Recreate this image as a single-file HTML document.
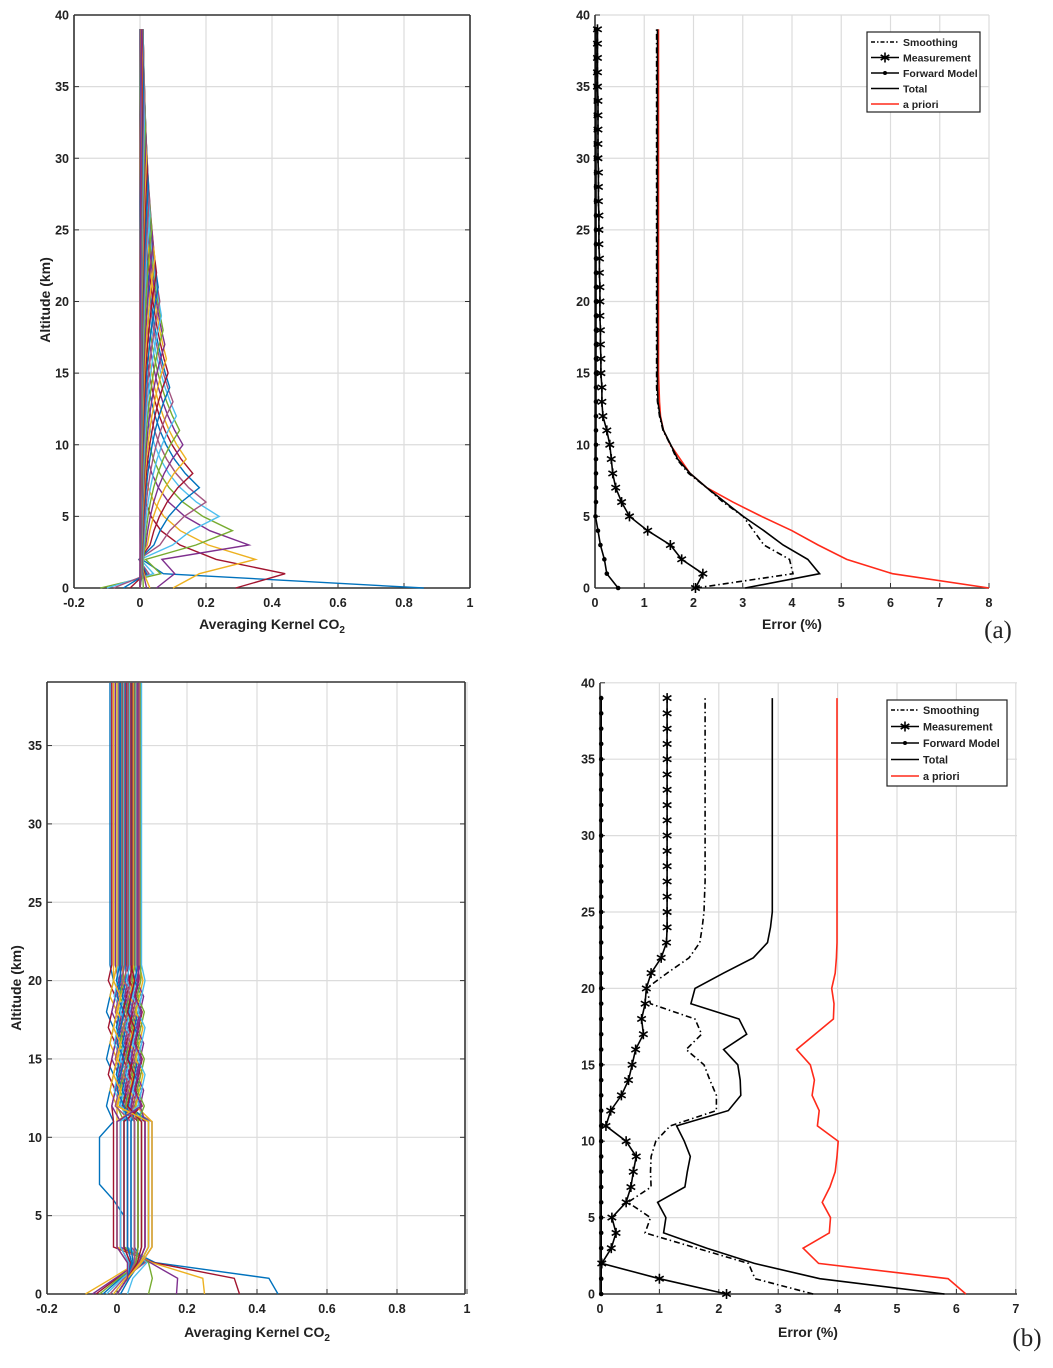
<!DOCTYPE html>
<html><head><meta charset="utf-8">
<style>
html,body{margin:0;padding:0;background:#fff;}
svg text{font-family:"Liberation Sans",Arial,sans-serif;font-weight:bold;fill:#222;}
</style></head>
<body>
<svg id="fig" width="1053" height="1363" viewBox="0 0 1053 1363" xmlns="http://www.w3.org/2000/svg">
<text x="998" y="638" font-size="25" style="font-family:'Liberation Serif',serif;font-weight:normal" text-anchor="middle">(a)</text>
<text x="1027" y="1346" font-size="25" style="font-family:'Liberation Serif',serif;font-weight:normal" text-anchor="middle">(b)</text>
</svg>
<script>
// ---------- data ----------
const altLevels = [0,1,2,3,4,5,6,7,8,9,10,11,12,13,14,15,16,17,18,19,20,21,22,23,24,25,26,27,28,29,30,31,32,33,34,35,36,37,38,39];
// panel (a) errors
const aSmooth = [2.05,4.02,3.95,3.43,3.22,3.01,2.6,2.27,1.9,1.66,1.53,1.38,1.31,1.27,1.25,1.25,1.25,1.25,1.25,1.25,1.25,1.25,1.25,1.25,1.25,1.25,1.25,1.25,1.25,1.25,1.25,1.25,1.25,1.25,1.25,1.25,1.25,1.25,1.25,1.25];
const aMeas = [2.04,2.19,1.76,1.53,1.07,0.7,0.54,0.42,0.36,0.33,0.3,0.24,0.16,0.14,0.14,0.12,0.12,0.11,0.11,0.1,0.1,0.1,0.09,0.09,0.08,0.08,0.08,0.07,0.07,0.07,0.06,0.06,0.06,0.06,0.06,0.05,0.05,0.05,0.05,0.05];
const aFwd = [0.47,0.24,0.19,0.11,0.06,0.01,0.02,0.02,0.02,0.02,0.02,0.02,0.02,0.02,0.02,0.02,0.02,0.02,0.02,0.02,0.02,0.02,0.02,0.02,0.02,0.02,0.02,0.02,0.02,0.02,0.02,0.02,0.02,0.02,0.02,0.02,0.02,0.02,0.02,0.02];
const aTotal = [3.05,4.56,4.32,3.82,3.43,3.01,2.64,2.27,1.93,1.68,1.54,1.39,1.32,1.28,1.27,1.27,1.27,1.27,1.27,1.27,1.27,1.27,1.27,1.27,1.27,1.27,1.27,1.27,1.27,1.27,1.27,1.27,1.27,1.27,1.27,1.27,1.27,1.27,1.27,1.27];
const aPrior = [8.0,6.04,5.11,4.53,4.0,3.38,2.8,2.27,1.93,1.73,1.53,1.39,1.33,1.31,1.3,1.29,1.29,1.29,1.29,1.29,1.29,1.29,1.29,1.29,1.29,1.29,1.29,1.29,1.29,1.29,1.29,1.29,1.29,1.29,1.29,1.29,1.29,1.29,1.29,1.29];
// panel (b) errors
const bSmooth = [3.59,2.61,2.5,1.63,0.76,0.85,0.47,0.86,0.85,0.86,0.94,1.18,1.96,1.96,1.85,1.75,1.45,1.71,1.6,0.85,0.78,1.13,1.5,1.68,1.72,1.75,1.76,1.77,1.77,1.77,1.77,1.77,1.77,1.77,1.77,1.77,1.77,1.77,1.77,1.77];
const bMeas = [2.13,1.0,0.03,0.19,0.27,0.2,0.44,0.52,0.56,0.61,0.44,0.1,0.18,0.36,0.48,0.54,0.6,0.73,0.7,0.76,0.78,0.86,1.03,1.12,1.13,1.13,1.13,1.13,1.13,1.13,1.13,1.13,1.13,1.13,1.13,1.13,1.13,1.13,1.13,1.13];
const bFwd = [0.02,0.02,0.02,0.02,0.02,0.02,0.02,0.02,0.02,0.02,0.02,0.02,0.02,0.02,0.02,0.02,0.02,0.02,0.02,0.02,0.02,0.02,0.02,0.02,0.02,0.02,0.02,0.02,0.02,0.02,0.02,0.02,0.02,0.02,0.02,0.02,0.02,0.02,0.02,0.02];
const bTotal = [5.8,3.7,2.6,1.8,1.07,1.11,0.97,1.43,1.47,1.52,1.42,1.29,2.16,2.37,2.36,2.32,2.08,2.47,2.34,1.53,1.6,2.08,2.58,2.82,2.87,2.9,2.9,2.9,2.9,2.9,2.9,2.9,2.9,2.9,2.9,2.9,2.9,2.9,2.9,2.9];
const bPrior = [6.16,5.86,3.68,3.42,3.86,3.88,3.74,3.87,3.96,3.99,4.01,3.66,3.69,3.57,3.61,3.54,3.31,3.62,3.93,3.94,3.9,3.96,3.98,3.99,3.99,3.99,3.99,3.99,3.99,3.99,3.99,3.99,3.99,3.99,3.99,3.99,3.99,3.99,3.99,3.99];
// averaging kernel peak values (a) and base values (b)
const akPeakA = [0.86,0.44,0.35,0.33,0.28,0.24,0.2,0.18,0.16,0.14,0.13,0.12,0.11,0.1,0.09,0.085,0.08,0.075,0.07,0.065,0.06,0.055,0.05,0.045,0.04,0.035,0.03,0.028,0.025,0.022,0.02,0.018,0.016,0.014,0.012,0.01,0.008,0.006,0.005];
const akSurfA = [0.86,0.29,0.1,0.05,-0.12,-0.1,-0.08,-0.05,-0.03,0.03,0.02,0.01,0,0,0,0,0,0,0,0,0,0,0,0,0,0,0,0,0,0,0,0,0,0,0,0,0,0,0];
const akBaseB = [-0.02,-0.015,-0.01,-0.005,0,0.002,0.005,0.008,0.01,0.012,0.015,0.018,0.02,0.022,0.025,0.027,0.03,0.032,0.035,0.037,0.04,0.042,0.045,0.047,0.05,0.052,0.055,0.057,0.06,0.062,0.064,0.066,0.068,0.07,0.03,0.01,0.04,0.0,0.06];
const akMidB = [0.02,-0.01,0.0,0.01,0.02,0.03,0.04,0.05,0.06,0.07,0.08,0.09,0.1,0.1,0.09,0.08,0.07,0.06,0.05,0.04,0.03,0.02,0.01,0.0,0.05,0.06,0.07,0.03,0.04,0.02,0.1,0.08,0.06,0.01,0.05,0.03,0.07,0.09,0.0];
const akSurfB = [0.46,0.35,0.25,0.17,0.09,0.03,-0.02,-0.04,-0.06,-0.09,-0.07,-0.05,-0.03,0.0,0.01,0.0,-0.01,0.0,0.0,0.0,0.0,0.0,0.0,0.0,0.0,0.0,0.0,0.0,0.0,0.0,0.0,0.0,0.0,0.0,0.0,0.0,0.0,0.0,0.0];
const colors = ["#0072BD","#A2142F","#EDB120","#7E2F8E","#77AC30","#4DBEEE","#A2547F"];

// ---------- drawing ----------
const NS="http://www.w3.org/2000/svg";
const svg=document.getElementById('fig');
function mk(tag,attrs,parent){const e=document.createElementNS(NS,tag);for(const k in attrs)e.setAttribute(k,attrs[k]);(parent||svg).appendChild(e);return e;}

function axes(P){
  const g=mk('g',{});
  
  
  P.xt.forEach(v=>{const x=P.sx(v);
    const l=mk('line',{x1:x,x2:x,y1:P.top,y2:P.y0,stroke:'#dcdcdc','stroke-width':1.2},g);
    
    mk('line',{x1:x,x2:x,y1:P.y0,y2:P.y0-5,stroke:'#333','stroke-width':1},g);
    const t=mk('text',{x:x,y:P.y0+19,'font-size':12.5,'text-anchor':'middle'},g);t.textContent=P.xl(v);
    });
  P.yt.forEach(v=>{const y=P.sy(v);
    const l=mk('line',{x1:P.x0,x2:P.right,y1:y,y2:y,stroke:'#dcdcdc','stroke-width':1.2},g);
    
    mk('line',{x1:P.x0,x2:P.x0+5,y1:y,y2:y,stroke:'#333','stroke-width':1},g);
    if(P.box)mk('line',{x1:P.right,x2:P.right-5,y1:y,y2:y,stroke:'#333','stroke-width':1},g);
    const t=mk('text',{x:P.x0-5,y:y+4.5,'font-size':12.5,'text-anchor':'end'},g);t.textContent=v;
    });
  mk('line',{x1:P.x0,x2:P.right,y1:P.y0,y2:P.y0,stroke:'#333','stroke-width':1.6},g);
  mk('line',{x1:P.x0,x2:P.x0,y1:P.top,y2:P.y0,stroke:'#333','stroke-width':1.6},g);
  if(P.box){mk('line',{x1:P.x0,x2:P.right,y1:P.top,y2:P.top,stroke:'#333','stroke-width':1.6},g);
    mk('line',{x1:P.right,x2:P.right,y1:P.top,y2:P.y0,stroke:'#333','stroke-width':1.6},g);}
  return g;
}
function pathD(vals,P,alts){return vals.map((v,i)=>(i?'L':'M')+P.sx(v).toFixed(1)+','+P.sy(alts[i]).toFixed(1)).join(' ');}

const PA={name:'kernel-plot-a',x0:74,right:470,top:15,y0:588,sx:v=>140+v*330,sy:v=>588-v*14.325,
  xt:[-0.2,0,0.2,0.4,0.6,0.8,1],yt:[0,5,10,15,20,25,30,35,40],xl:v=>String(v),box:true};
const PB={name:'error-plot-a',x0:595,right:989,top:15,y0:588,sx:v=>595+v*49.25,sy:v=>588-v*14.325,
  xt:[0,1,2,3,4,5,6,7,8],yt:[0,5,10,15,20,25,30,35,40],xl:v=>String(v),box:false};
const PC={name:'kernel-plot-b',x0:47,right:465,top:682,y0:1294,sx:v=>117+v*350,sy:v=>1294-v*15.67,
  xt:[-0.2,0,0.2,0.4,0.6,0.8,1],yt:[0,5,10,15,20,25,30,35],xl:v=>String(v),box:true};
const PD={name:'error-plot-b',x0:600,right:1017,top:683,y0:1294,sx:v=>600+v*59.4,sy:v=>1294-v*15.28,
  xt:[0,1,2,3,4,5,6,7],yt:[0,5,10,15,20,25,30,35,40],xl:v=>String(v),box:false};

const gA=axes(PA),gB=axes(PB),gC=axes(PC),gD=axes(PD);
const kAlts=altLevels;

akPeakA.forEach((pk,k)=>{
  const vals=kAlts.map(j=>{
    if(j===0)return akSurfA[k];
    if(j===k)return pk;
    const d=j-k;
    let w=d>0?(k===0?0.4:1.2+k*0.35):(1+k*0.25);
    let v=pk*Math.exp(-Math.abs(d)/w);
    if(j===2&&k>=3&&k<=10)v-=0.12*Math.exp(-(k-3)/3);
    return v;});
  const p=mk('path',{d:pathD(vals,PA,kAlts),fill:'none',stroke:colors[k%7],'stroke-width':1.4},gA);
  
  
});
akBaseB.forEach((b,k)=>{
  const m=akMidB[k];
  const vals=kAlts.map(j=>{
    if(j===0)return akSurfB[k];
    if(j===1)return k<5?akSurfB[k]*0.9+0.02:akSurfB[k]*0.5+0.03;
    if(j===2)return k<8?0.11-k*0.005:0.03+m*0.4;
    if(j<=11){ if(k===0&&j>=6)return -0.05+(j===6||j===11?0.04:0); return m;}
    if(j<=20)return b+((j+k)%3-1)*0.01;
    return b;});
  const p=mk('path',{d:pathD(vals,PC,kAlts),fill:'none',stroke:colors[k%7],'stroke-width':1.4},gC);
  
  
});

function star(g,x,y){const s=mk('g',{stroke:'#000','stroke-width':1.6},g);
  [[0,5],[4.3,2.5],[4.3,-2.5]].forEach(([a,b])=>mk('line',{x1:x-a,y1:y-b,x2:x+a,y2:y+b},s));
  }
function errSeries(g,P,vals,kind,name){
  const st={stroke:kind==='prior'?'#ff2a1a':'#000','stroke-width':1.6,fill:'none'};
  if(kind==='smooth')st['stroke-dasharray']='6,3,1.5,3';
  st.d=pathD(vals,P,altLevels);
  const p=mk('path',st,g);
  
  
  if(kind==='meas')vals.forEach((v,i)=>star(g,P.sx(v),P.sy(altLevels[i])));
  if(kind==='fwd')vals.forEach((v,i)=>{const c=mk('circle',{cx:P.sx(v),cy:P.sy(altLevels[i]),r:2.3,fill:'#000'},g);
    });
}
errSeries(gB,PB,aPrior,'prior','apriori-line');
errSeries(gB,PB,aTotal,'total','total-line');
errSeries(gB,PB,aSmooth,'smooth','smoothing-line');
errSeries(gB,PB,aMeas,'meas','measurement-line');
errSeries(gB,PB,aFwd,'fwd','forward-model-line');
errSeries(gD,PD,bPrior,'prior','apriori-line');
errSeries(gD,PD,bTotal,'total','total-line');
errSeries(gD,PD,bSmooth,'smooth','smoothing-line');
errSeries(gD,PD,bMeas,'meas','measurement-line');
errSeries(gD,PD,bFwd,'fwd','forward-model-line');

function legend(x,y,w,h,fs,step,lx){
  const g=mk('g',{});
  
  
  mk('rect',{x:x,y:y,width:w,height:h,fill:'#fff',stroke:'#222','stroke-width':1.2},g);
  const names=['Smoothing','Measurement','Forward Model','Total','a priori'];
  names.forEach((n,i)=>{const cy=y+10+i*step;
    const l=mk('line',{x1:x+4,x2:x+lx,y1:cy,y2:cy,stroke:i===4?'#ff2a1a':'#000','stroke-width':1.5},g);
    if(i===0)l.setAttribute('stroke-dasharray','4,2,1.5,2');
    if(i===1)star(g,x+4+(lx-4)/2,cy);
    if(i===2)mk('circle',{cx:x+4+(lx-4)/2,cy:cy,r:2,fill:'#000'},g);
    const t=mk('text',{x:x+lx+4,y:cy+4,'font-size':fs},g);t.textContent=n;
    });
}
legend(867,32,113,80,10.5,15.5,32);
legend(887,700,120,86,10.8,16.5,32);

function lbl(x,y,txt,name,rot,sub){const t=mk('text',{x:x,y:y,'font-size':14,'text-anchor':'middle'});
  if(rot)t.setAttribute('transform','rotate(-90 '+x+' '+y+')');
  t.textContent=txt;
  if(sub){const s=mk('tspan',{'font-size':10,dy:4},t);s.textContent=sub;}
  }
lbl(272,629,'Averaging Kernel CO','x-axis-title-a',false,'2');
lbl(792,629,'Error (%)','x-axis-title-error-a');
lbl(50,300,'Altitude (km)','y-axis-title-a',true);
lbl(257,1337,'Averaging Kernel CO','x-axis-title-b',false,'2');
lbl(808,1337,'Error (%)','x-axis-title-error-b');
lbl(21,988,'Altitude (km)','y-axis-title-b',true);
</script>
</body></html>
